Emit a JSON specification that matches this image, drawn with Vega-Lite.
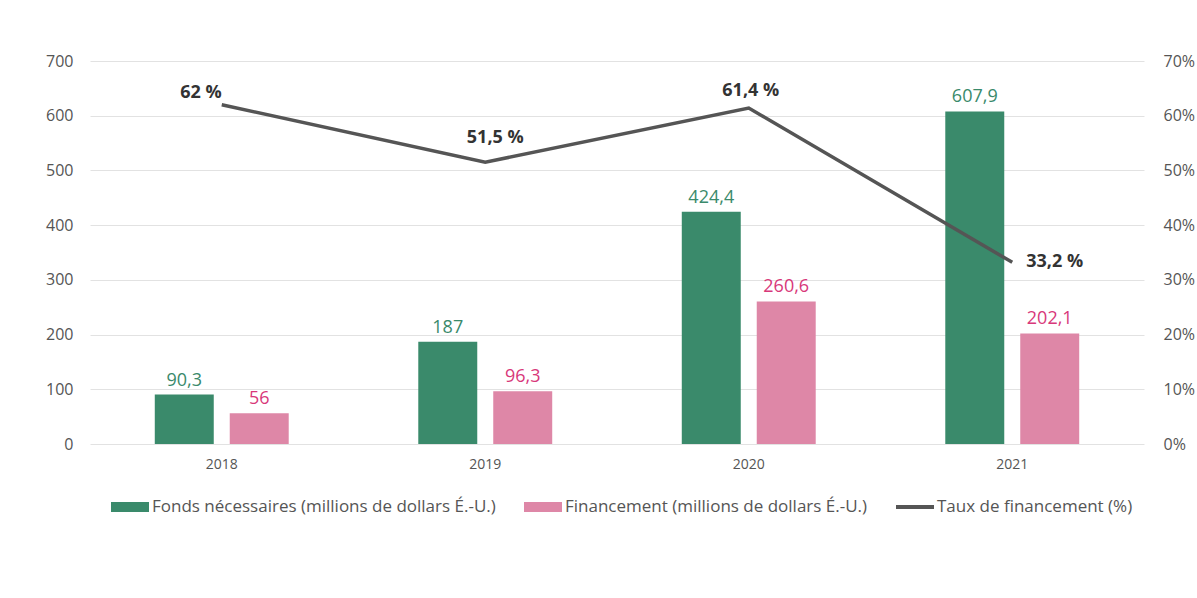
{
  "$schema": "https://vega.github.io/schema/vega-lite/v6.json",
  "width": 1054,
  "height": 383,
  "autosize": {"type": "none"},
  "padding": {"left": 90, "top": 61, "right": 53, "bottom": 154},
  "background": "white",
  "config": {
    "font": "Open Sans",
    "view": {"stroke": null},
    "axis": {"labelFont": "Open Sans", "labelColor": "#555555", "ticks": false, "domain": false, "title": null}
  },
  "datasets": {
    "bars": [
      {"year": "2018", "series": "Fonds nécessaires (millions de dollars É.-U.)", "value": 90.3},
      {"year": "2018", "series": "Financement (millions de dollars É.-U.)", "value": 56},
      {"year": "2019", "series": "Fonds nécessaires (millions de dollars É.-U.)", "value": 187},
      {"year": "2019", "series": "Financement (millions de dollars É.-U.)", "value": 96.3},
      {"year": "2020", "series": "Fonds nécessaires (millions de dollars É.-U.)", "value": 424.4},
      {"year": "2020", "series": "Financement (millions de dollars É.-U.)", "value": 260.6},
      {"year": "2021", "series": "Fonds nécessaires (millions de dollars É.-U.)", "value": 607.9},
      {"year": "2021", "series": "Financement (millions de dollars É.-U.)", "value": 202.1}
    ],
    "rates": [
      {"year": "2018", "rate": 62},
      {"year": "2019", "rate": 51.5},
      {"year": "2020", "rate": 61.4},
      {"year": "2021", "rate": 33.2}
    ]
  },
  "encoding": {
    "x": {
      "field": "year", "type": "nominal",
      "scale": {"paddingInner": 0.431, "paddingOuter": 0.2155},
      "axis": {"labelAngle": 0, "labelFontSize": 14, "labelPadding": 13, "grid": false}
    }
  },
  "layer": [
    {
      "data": {"name": "bars"},
      "encoding": {
        "y": {
          "field": "value", "type": "quantitative",
          "scale": {"domain": [0, 700], "nice": false},
          "axis": {"orient": "left", "values": [0, 100, 200, 300, 400, 500, 600, 700], "labelFontSize": 16, "labelPadding": 17, "grid": true, "gridColor": "#e2e2e2", "gridWidth": 1}
        },
        "xOffset": {
          "field": "series", "type": "nominal",
          "scale": {"domain": ["Fonds nécessaires (millions de dollars É.-U.)", "Financement (millions de dollars É.-U.)"], "paddingInner": 0.2133, "paddingOuter": 0.1067}
        }
      },
      "layer": [
        {
          "mark": {"type": "bar"},
          "encoding": {
            "color": {
              "field": "series", "type": "nominal",
              "scale": {
                "domain": ["Fonds nécessaires (millions de dollars É.-U.)", "Financement (millions de dollars É.-U.)", "Taux de financement (%)"],
                "range": ["#3a8a6b", "#de87a7", "#555555"]
              },
              "legend": {
                "orient": "none", "legendX": 21, "legendY": 427,
                "direction": "horizontal", "title": null,
                "labelFont": "Open Sans", "labelFontSize": 17, "labelColor": "#555555", "labelLimit": 0,
                "labelOffset": 3, "columnPadding": 28, "symbolSize": 1444, "symbolType": "square",
                "encode": {
                  "symbols": {
                    "update": {
                      "fill": {"scale": "color", "field": "value"},
                      "stroke": {"value": "transparent"},
                      "strokeWidth": {"value": 0},
                      "opacity": {"value": 1},
                      "shape": {"signal": "datum.value === 'Taux de financement (%)' ? 'M-1,-0.1H1V0.1H-1Z' : 'M-1,-0.26H1V0.26H-1Z'"}
                    }
                  }
                }
              }
            }
          }
        },
        {
          "transform": [{"calculate": "replace(format(datum.value, '.1~f'), '.', ',')", "as": "label"}],
          "mark": {"type": "text", "baseline": "bottom", "dy": -5, "fontSize": 18, "font": "Open Sans"},
          "encoding": {
            "text": {"field": "label"},
            "color": {
              "condition": {"test": "datum.series === 'Fonds nécessaires (millions de dollars É.-U.)'", "value": "#3a8a6b"},
              "value": "#d8387a"
            }
          }
        }
      ]
    },
    {
      "data": {"name": "rates"},
      "encoding": {
        "y": {
          "field": "rate", "type": "quantitative",
          "scale": {"domain": [0, 70], "nice": false},
          "axis": {"orient": "right", "values": [0, 10, 20, 30, 40, 50, 60, 70], "labelExpr": "datum.value + '%'", "labelFontSize": 16, "labelPadding": 19, "grid": false}
        }
      },
      "layer": [
        {
          "mark": {"type": "line", "strokeWidth": 3.5},
          "encoding": {"color": {"datum": "Taux de financement (%)"}}
        },
        {
          "transform": [{"filter": "datum.year === '2018'"}, {"calculate": "replace(format(datum.rate, '.1~f'), '.', ',') + ' %'", "as": "label"}],
          "mark": {"type": "text", "align": "right", "baseline": "bottom", "dx": 0, "dy": -3, "fontSize": 18, "fontWeight": "bold", "color": "#333333"},
          "encoding": {"text": {"field": "label"}}
        },
        {
          "transform": [{"filter": "datum.year === '2019'"}, {"calculate": "replace(format(datum.rate, '.1~f'), '.', ',') + ' %'", "as": "label"}],
          "mark": {"type": "text", "align": "center", "baseline": "bottom", "dx": 10, "dy": -15, "fontSize": 18, "fontWeight": "bold", "color": "#333333"},
          "encoding": {"text": {"field": "label"}}
        },
        {
          "transform": [{"filter": "datum.year === '2020'"}, {"calculate": "replace(format(datum.rate, '.1~f'), '.', ',') + ' %'", "as": "label"}],
          "mark": {"type": "text", "align": "center", "baseline": "bottom", "dx": 2, "dy": -8, "fontSize": 18, "fontWeight": "bold", "color": "#333333"},
          "encoding": {"text": {"field": "label"}}
        },
        {
          "transform": [{"filter": "datum.year === '2021'"}, {"calculate": "replace(format(datum.rate, '.1~f'), '.', ',') + ' %'", "as": "label"}],
          "mark": {"type": "text", "align": "left", "baseline": "middle", "dx": 14, "dy": 0, "fontSize": 18, "fontWeight": "bold", "color": "#333333"},
          "encoding": {"text": {"field": "label"}}
        }
      ]
    }
  ],
  "resolve": {"scale": {"y": "independent"}}
}
